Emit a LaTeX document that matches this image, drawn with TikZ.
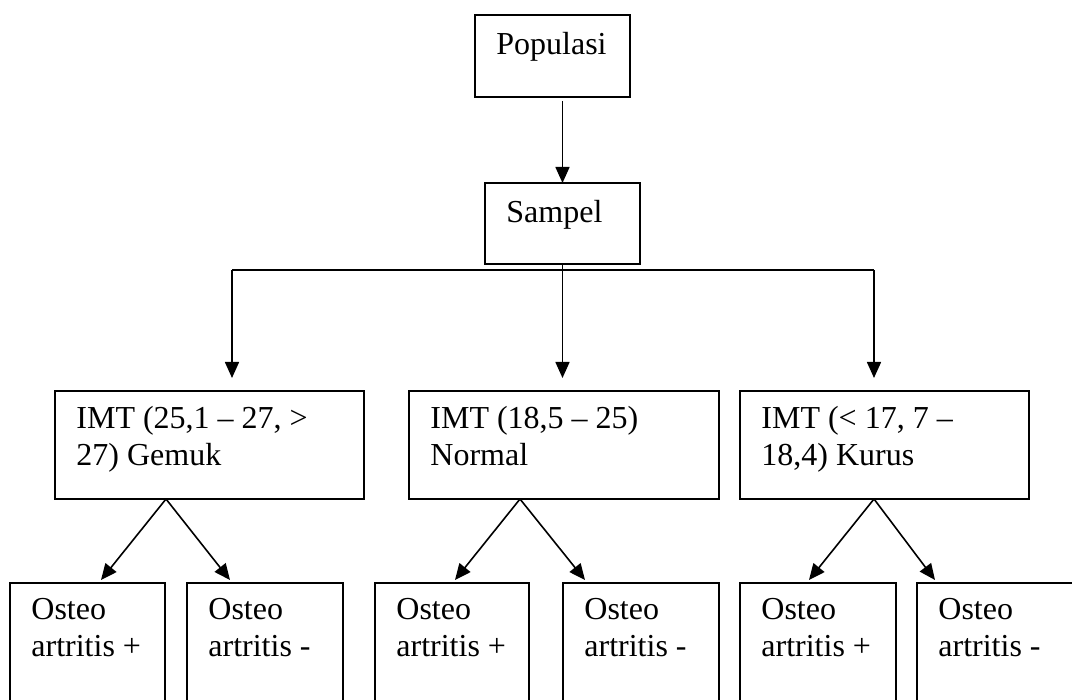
\documentclass[tikz,border=0pt]{standalone}
\usepackage{fontspec}
\setmainfont{Liberation Serif}
\usetikzlibrary{arrows.meta,calc}

\begin{document}
\begin{tikzpicture}[x=0.5pt,y=-0.5pt,
  box/.style={draw,line width=0.8pt,inner sep=0pt,outer sep=0pt},
  txt/.style={anchor=north west,inner sep=0pt,align=left,
    font=\fontsize{16}{18.4}\selectfont,execute at begin node={\rule{0pt}{12pt}}},
  link/.style={line width=0.8pt},
  arr/.style={line width=0.8pt,-{Triangle[length=8pt,width=7pt]}}]

    % name, left, top, right, bottom, text
    \def\cbox#1#2#3#4#5#6{
      \pgfmathsetmacro{\bw}{(#4-#2)*0.5}
      \pgfmathsetmacro{\bh}{(#5-#3)*0.5}
      \node[box,minimum width=\bw pt,minimum height=\bh pt] (#1) at ({(#2+#4)/2},{(#3+#5)/2}) {};
      \node[txt] (#1t) at ([shift={(21,15)}]#1.north west) {#6};
    }

    \useasboundingbox (0,0) rectangle (1072,700);
    \clip (0,0) rectangle (1072,700);

    \cbox{pop}{475}{15}{630}{97}{Populasi}
    \cbox{samp}{485}{183}{640}{264}{Sampel}

    \cbox{imt1}{55}{391}{364}{499}{IMT (25,1 – 27, >\\27) Gemuk}
    \cbox{imt2}{409}{391}{719}{499}{IMT (18,5 – 25)\\Normal}
    \cbox{imt3}{740}{391}{1029}{499}{IMT (< 17, 7 –\\18,4) Kurus}

    \cbox{o1}{10}{583}{165}{720}{Osteo\\artritis +}
    \cbox{o2}{187}{583}{343}{720}{Osteo\\artritis -}
    \cbox{o3}{375}{583}{529}{720}{Osteo\\artritis +}
    \cbox{o4}{563}{583}{719}{720}{Osteo\\artritis -}
    \cbox{o5}{740}{583}{896}{720}{Osteo\\artritis +}
    \cbox{o6}{917}{583}{1080}{720}{Osteo\\artritis -}

    \coordinate (s0) at ($(pop.south -| samp.north)+(0,4)$);
    \draw[arr] (s0) -- (samp.north);

    \coordinate (busl) at (232,270);
    \coordinate (busr) at (874,270);
    \coordinate (busm) at (samp.south |- busl);
    \draw[link] (busl) -- (busr);
    \draw[link] (samp.south) -- (busm);
    \coordinate (t1) at (232,378);
    \coordinate (t2) at (busm |- t1);
    \coordinate (t3) at (874,378);
    \draw[arr] (busl) -- (t1);
    \draw[arr] (busm) -- (t2);
    \draw[arr] (busr) -- (t3);

    \foreach \f/\l/\r [count=\i] in {166/101/230,520/455/585,874/809/935} {
      \coordinate (f\i) at (\f,499);
      \coordinate (pl\i) at (\l,580);
      \coordinate (pr\i) at (\r,580);
      \draw[arr] (f\i) -- (pl\i);
      \draw[arr] (f\i) -- (pr\i);
    }

\end{tikzpicture}
\end{document}
